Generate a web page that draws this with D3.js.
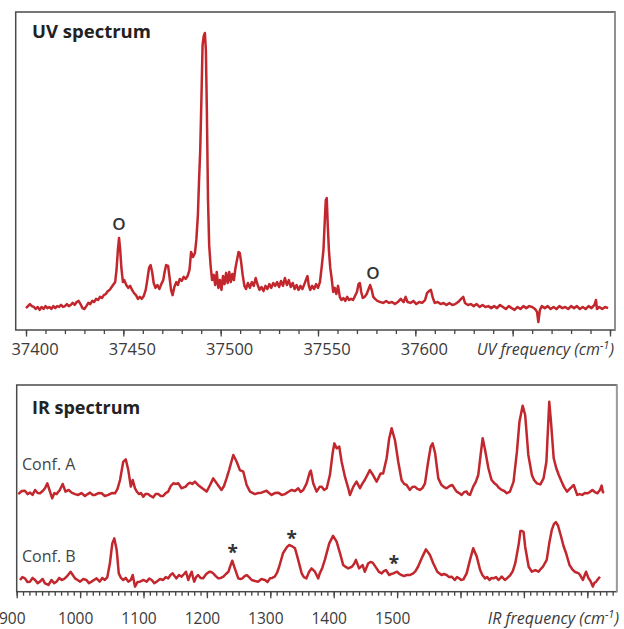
<!DOCTYPE html>
<html>
<head>
<meta charset="utf-8">
<script src="https://cdn.jsdelivr.net/npm/d3@7"></script>
<style>
  body { margin: 0; background: #fff; }
  text { font-family: "Open Sans", sans-serif; }
</style>
</head>
<body>
<svg id="chart"></svg>
<script>
// UV spectrum: [frequency (cm-1), intensity (arb. units, main peak = 100)]
const uvSpectrum = [
  [37400,4.8],[37401,5.5],[37402,6.2],[37403,5.5],[37404,5.2],[37405,4.5],[37406,5.2],[37407,4.2],[37408,5.2],[37409,4.5],
  [37410,5.5],[37411,4.8],[37412,5.2],[37413,4.5],[37414,5.5],[37415,4.8],[37416,5.5],[37417,5.2],[37418,5.9],[37419,5.2],
  [37420,5.5],[37421,6.2],[37422,5.5],[37423,5.9],[37424,6.6],[37425,5.9],[37426,6.9],[37427,7.3],[37428,6.2],[37429,4.8],
  [37430,4.5],[37431,5.5],[37432,6.6],[37433,6.2],[37434,7.3],[37435,6.9],[37436,8.0],[37437,7.6],[37438,8.7],[37439,8.3],
  [37440,9.3],[37441,9.7],[37442,10.7],[37443,11.1],[37444,12.1],[37445,13.1],[37445.8,13.8],[37446.5,18.0],[37447.2,24.9],
  [37447.8,29.1],[37448.4,24.9],[37449,18.7],[37449.8,13.8],[37450.5,14.5],[37451.5,12.8],[37452.5,11.8],[37453.5,12.5],
  [37454.5,11.1],[37455.5,10.0],[37456.5,9.3],[37457.5,8.0],[37458.5,8.7],[37459.5,8.0],[37460.5,9.0],[37461.5,11.1],
  [37462.3,14.5],[37463.2,18.7],[37464,19.7],[37464.8,17.3],[37465.6,13.5],[37466.5,11.8],[37467.5,12.8],[37468.5,11.4],
  [37469.5,13.1],[37470.5,14.5],[37471.2,17.3],[37472,19.7],[37473,19.4],[37473.8,15.2],[37474.5,11.1],[37475.3,9.3],
  [37476.2,12.1],[37477.2,13.8],[37478,12.8],[37479,14.9],[37480,14.2],[37481,15.6],[37482,14.9],[37483,15.9],[37484,18.0],
  [37484.8,24.2],[37485.8,22.5],[37486.8,23.9],[37487.5,28.4],[37488.3,37.0],[37488.9,49.1],[37489.5,59.5],[37490.1,76.8],
  [37490.7,95.8],[37491.3,99.0],[37491.9,100],[37492.4,94.1],[37492.9,73.4],[37493.5,42.2],[37494.1,26.6],[37494.8,19.7],
  [37495.6,14.5],[37496.4,16.3],[37497.2,12.8],[37498,17.3],[37498.8,11.8],[37499.6,14.5],[37500.4,11.1],[37501.2,15.9],
  [37502,13.1],[37502.8,17.0],[37503.6,13.5],[37504.4,17.3],[37505.2,13.8],[37506,16.6],[37506.8,14.5],[37507.6,18.7],
  [37508.4,21.5],[37509.2,24.2],[37509.8,23.9],[37510.5,20.8],[37511.3,16.3],[37512.2,12.5],[37513,11.4],[37514,13.5],
  [37515,11.8],[37516,13.8],[37517,12.5],[37518,15.2],[37519,12.8],[37520,11.1],[37521,12.1],[37522,10.7],[37523,12.5],
  [37524,11.4],[37525,13.1],[37526,11.8],[37527,13.5],[37528,12.5],[37529,13.8],[37530,12.1],[37531,14.2],[37532,12.5],
  [37533,15.2],[37534,12.8],[37535,14.5],[37536,12.1],[37537,13.5],[37538,11.4],[37539,12.8],[37540,11.1],[37541,12.5],
  [37542,11.4],[37543,13.1],[37544,14.9],[37544.6,15.9],[37545.3,12.5],[37546,11.1],[37547,12.5],[37548,11.4],[37549,13.1],
  [37550,11.8],[37551,13.8],[37552,19.7],[37552.8,24.9],[37553.5,35.3],[37554,42.2],[37554.5,42.9],[37555,33.6],
  [37555.6,24.9],[37556.3,18.7],[37557,15.2],[37557.8,10.4],[37558.6,11.8],[37559.4,9.7],[37560.3,12.5],[37561.2,8.7],
  [37562,7.6],[37563,8.3],[37564,7.3],[37565,8.7],[37566,7.6],[37567,8.0],[37568,7.6],[37569,9.0],[37570,10.4],
  [37570.8,13.1],[37571.5,13.5],[37572.2,10.4],[37573,8.3],[37574,8.7],[37575,9.7],[37576,11.4],[37576.8,12.8],
  [37577.6,11.1],[37578.4,8.7],[37579.3,8.0],[37580.5,7.3],[37582,6.9],[37583.5,6.6],[37585,7.3],[37586.5,6.6],[37588,6.9],
  [37589.5,6.2],[37591,6.9],[37592.5,8.0],[37594,6.9],[37595,8.7],[37596,6.9],[37597.5,6.6],[37599,7.3],[37600.5,6.2],
  [37602,6.9],[37603.5,6.6],[37605,7.6],[37606,10.0],[37607,10.7],[37608,11.1],[37609,8.3],[37610,6.6],[37611.5,6.9],
  [37613,6.2],[37614.5,6.6],[37616,5.9],[37617.5,6.6],[37619,5.9],[37620.5,6.2],[37622,6.9],[37623.5,8.0],[37624.6,8.7],
  [37625.5,6.6],[37627,5.9],[37628.5,6.2],[37630,5.5],[37631.5,6.2],[37633,5.2],[37634.5,5.9],[37636,5.2],[37637.5,5.5],
  [37639,4.8],[37640.5,5.5],[37642,4.8],[37643.5,5.9],[37645,5.2],[37646.5,4.5],[37648,5.5],[37649.5,4.8],[37651,4.2],
  [37652.5,5.2],[37654,4.5],[37655.5,5.5],[37657,4.8],[37658.5,5.5],[37660,5.2],[37661.5,4.5],[37662.5,3.5],[37663.2,0],
  [37664,4.2],[37665,5.5],[37666.5,4.8],[37668,5.5],[37669.5,4.5],[37671,5.2],[37672.5,4.5],[37674,5.5],[37675.5,4.8],
  [37677,5.2],[37678.5,4.5],[37680,5.5],[37681.5,4.8],[37683,5.5],[37684.5,4.5],[37686,5.2],[37687.5,4.5],[37689,5.5],
  [37690.5,4.8],[37692,5.9],[37692.8,7.6],[37693.3,4.5],[37694.5,5.2],[37696,4.5],[37697.5,5.2],[37699,4.8]
];

// peaks marked "O" in the UV spectrum: frequency and label height
const uvMarkFreq = [37447.8, 37578.2];
const uvMarkLevel = [33.9, 17.0];

const uvMajorTicks = [37400, 37450, 37500, 37550, 37600, 37650, 37700];
const uvTickLabels = [37400, 37450, 37500, 37550, 37600];

// IR spectra, stacked: [frequency (cm-1), intensity (arb. units, offset included)]
const irConfA = [
  [902.5,47.3],[908,48.8],[913,48.9],[917,47.3],[921,48.0],[925,46.9],[929,49.3],[933,47.8],[936.7,47.7],[941,48.8],
  [944.6,50.1],[948.3,52.5],[952.5,48.5],[956,45.3],[959.5,47.8],[963,47.3],[968,49.3],[972.5,52.2],[977,48.5],[982,49.3],
  [986.7,48.0],[992,47.3],[997,46.9],[1002,47.8],[1007.7,46.4],[1012,47.3],[1015.6,48.0],[1020,46.9],[1023.5,46.9],
  [1029,47.8],[1034,47.7],[1039,46.4],[1044.5,46.9],[1050,47.8],[1055,47.7],[1059,49.8],[1063,54.1],[1068,62.9],
  [1072,64.1],[1076,58.9],[1080,50.9],[1083,54.1],[1086.6,50.1],[1090,48.3],[1093,47.3],[1096,47.8],[1099.7,46.0],
  [1103,47.3],[1107.5,47.3],[1111,46.4],[1115.4,45.7],[1119,47.3],[1123.3,47.3],[1127,46.4],[1131,46.4],[1135,47.8],
  [1139,48.5],[1143,51.2],[1147,52.5],[1151,52.2],[1155,52.5],[1160,50.1],[1166.5,50.9],[1170,52.2],[1173,52.8],
  [1177,52.2],[1181,53.3],[1186,51.7],[1192.7,50.1],[1199.6,48.5],[1205,51.7],[1210,54.9],[1215.4,52.5],[1223,49.3],
  [1227,51.2],[1231,54.9],[1235,58.9],[1238,62.2],[1241.6,66.2],[1247,62.9],[1252,58.9],[1257.4,58.1],[1262.7,51.7],
  [1268,48.5],[1275.8,47.3],[1281,47.8],[1286,48.0],[1294,48.9],[1298,47.8],[1302,46.9],[1307,47.8],[1312.5,48.0],
  [1318,46.9],[1323,47.3],[1328,48.3],[1333.7,49.3],[1339,48.8],[1344,50.1],[1348,48.3],[1352,49.3],[1357.3,52.5],
  [1362.5,58.1],[1364,58.6],[1367.7,52.5],[1373,48.5],[1378,50.9],[1381,50.9],[1385,49.3],[1389,50.1],[1394,56.5],
  [1398.3,67.0],[1401,71.8],[1404.6,69.4],[1408.8,70.2],[1412.5,62.9],[1417.7,55.7],[1423,50.1],[1425.6,46.9],
  [1431,50.9],[1436,53.3],[1441.4,50.1],[1445,52.2],[1449,54.1],[1457,58.9],[1462,56.5],[1467.7,53.3],[1474,57.3],
  [1478,57.3],[1483.5,64.6],[1487.6,74.3],[1491.4,79.1],[1496.6,73.4],[1501.8,62.9],[1507,54.1],[1511,52.2],[1515,51.7],
  [1520,49.3],[1524,50.7],[1528,50.9],[1532,49.8],[1536,49.3],[1540,50.2],[1544,52.5],[1549,62.9],[1553,70.2],
  [1556,71.8],[1560,67.0],[1565,54.9],[1570,51.7],[1574,50.7],[1578,50.1],[1583,51.2],[1587,51.7],[1591,49.8],
  [1594,48.5],[1598,47.8],[1601.8,46.9],[1606,48.3],[1609.7,48.5],[1612,47.3],[1615,46.9],[1620,50.9],[1624,53.1],
  [1628,56.5],[1632,67.0],[1635,74.3],[1638.8,68.6],[1644,59.8],[1649,54.1],[1653,52.7],[1657,51.7],[1661,50.2],
  [1665,49.3],[1669,48.8],[1673,47.7],[1678,48.5],[1683.7,53.3],[1689,67.8],[1693,82.3],[1698,90.0],[1702,85.5],
  [1707,66.2],[1712.6,56.5],[1716,54.1],[1720.6,52.5],[1726,52.0],[1731,54.9],[1735.5,62.9],[1738,79.1],[1740,91.9],
  [1742.7,82.3],[1747,64.6],[1751,59.9],[1755,56.5],[1759,53.6],[1763,50.9],[1768,48.5],[1773,50.1],[1778.6,51.7],
  [1784,46.9],[1788,47.3],[1792,46.9],[1796,47.8],[1800,47.7],[1804,48.3],[1808,49.3],[1812,48.3],[1816,47.7],
  [1820,49.3],[1822.6,51.4],[1824.5,48.3],[1826.6,48.0]
];

const irConfB = [
  [905.2,5.8],[909,7.2],[913,6.6],[917,4.8],[921,5.0],[925,6.8],[929,5.8],[933,4.3],[936.7,5.0],[941,6.3],[944.6,4.2],
  [950,3.4],[955,5.8],[959,4.3],[963,5.0],[967,6.8],[971,5.8],[975,6.3],[978.8,7.4],[985,9.8],[988.5,8.2],[992,6.6],
  [996,5.8],[1000,5.0],[1005,6.3],[1010,5.8],[1014,4.3],[1018,5.0],[1022,5.8],[1026,6.6],[1031,5.0],[1035,6.8],[1039,5.8],
  [1043,7.2],[1047,13.9],[1050.8,23.5],[1054,25.9],[1057.7,20.3],[1061,9.0],[1064.5,6.8],[1068,5.8],[1072,6.8],[1076,5.0],
  [1080,5.8],[1083,8.2],[1086.6,2.6],[1090.5,4.8],[1094.5,5.0],[1100,5.8],[1105,5.0],[1109,6.5],[1113,5.8],[1117,4.3],
  [1121,5.0],[1126,6.3],[1131,5.8],[1135,7.2],[1139,6.6],[1142.5,8.2],[1146,9.0],[1149,7.7],[1152,6.6],[1156,8.2],
  [1160,7.4],[1164,8.7],[1167,9.8],[1170.6,5.8],[1173.5,8.2],[1176,9.8],[1178,7.2],[1180,5.0],[1183,7.2],[1186,8.2],
  [1190,6.8],[1194,6.6],[1199,8.7],[1203.7,9.8],[1207,9.7],[1210,9.0],[1214,7.7],[1218,6.6],[1222,6.8],[1226,7.4],
  [1230,8.7],[1234,9.8],[1237,12.6],[1240,15.1],[1244,11.4],[1249.5,6.6],[1253,6.3],[1256,6.6],[1259.5,7.7],[1262.7,8.2],
  [1266.5,7.2],[1270.6,5.8],[1276,5.3],[1281,5.0],[1286,6.3],[1291.6,5.8],[1295.5,4.8],[1299.5,6.6],[1303,6.8],[1307,7.4],
  [1310.5,9.2],[1314,12.2],[1320,18.7],[1326.7,21.9],[1330,22.7],[1333.7,22.2],[1339,21.1],[1344,15.5],[1349.5,9.0],
  [1353,7.2],[1357,6.6],[1361,9.7],[1365,11.4],[1370.4,9.8],[1375.6,6.6],[1378,9.0],[1382,11.6],[1386,15.5],[1393,23.5],
  [1399,27.1],[1404.6,24.3],[1410,18.7],[1415,13.0],[1419,12.1],[1423,11.4],[1428.6,12.2],[1432,13.5],[1435,15.5],
  [1440,11.4],[1445.6,13.0],[1449,9.8],[1454.5,13.9],[1458,14.5],[1461.5,14.2],[1467.7,11.4],[1471.5,9.7],[1475.6,9.0],
  [1479,10.1],[1482.4,10.6],[1487.6,8.2],[1491,8.7],[1494,9.0],[1500,9.8],[1503.5,8.7],[1507,8.2],[1511,7.7],[1515,8.2],
  [1520,8.2],[1525.4,9.0],[1529,10.1],[1533,12.2],[1540,17.1],[1545.5,20.6],[1551.8,17.9],[1557,13.9],[1563.4,9.8],
  [1570,8.2],[1574,8.7],[1578,8.2],[1582,7.2],[1586,7.4],[1591,5.8],[1594.5,7.2],[1598,6.6],[1601,5.8],[1604.6,6.1],
  [1609.7,9.0],[1615,15.5],[1620,21.1],[1625.6,17.1],[1631,10.6],[1634.5,8.2],[1638.8,6.6],[1642,7.2],[1645.7,5.8],
  [1649,6.8],[1652,6.6],[1656,7.2],[1660,5.8],[1665,7.4],[1670,5.8],[1674,6.8],[1678.6,8.2],[1682.5,10.1],[1686.4,13.9],
  [1692,23.5],[1694.5,29.5],[1697,29.5],[1699.5,29.0],[1702,21.9],[1707.5,12.2],[1712.6,9.8],[1718,10.6],[1723,9.8],
  [1726.5,11.1],[1730,12.2],[1736,15.5],[1740,23.5],[1744,30.0],[1747.5,32.9],[1750.5,33.8],[1754,31.9],[1758.7,26.7],
  [1762.5,22.2],[1766.6,18.7],[1772,13.0],[1776,11.1],[1780,9.8],[1786.6,9.0],[1789.5,7.7],[1793,5.8],[1798,9.8],
  [1802,6.6],[1805,5.3],[1808.7,2.6],[1811,4.3],[1814,5.0],[1817,6.3],[1820,7.4]
];

// bands marked "*" in Conf. B
const irStarFreq = [1240.6, 1333.7, 1495];
const irStarLevel = [20.8, 27.5, 15.5];

const irMajorTicks = [900, 1000, 1100, 1200, 1300, 1400, 1500, 1600, 1700, 1800];
const irTickLabels = [900, 1000, 1100, 1200, 1300, 1400, 1500];

const red = "#c1272d";
const ink = "#3a3a3a";

const svg = d3.select("#chart")
    .attr("width", 624)
    .attr("height", 629);

// ---------- UV panel ----------
const uvBox = { left: 15.7, right: 615, top: 12, bottom: 330 };
const uvX = d3.scaleLinear().domain([37400, 37700]).range([26, 610]);
const uvY = d3.scaleLinear().domain([0, 100]).range([322, 33]);

function drawFrame(box) {
    svg.append("rect")
        .attr("x", box.left).attr("y", box.top)
        .attr("width", box.right - box.left).attr("height", box.bottom - box.top)
        .attr("fill", "none").attr("stroke", "#4a4a4a").attr("stroke-width", 1.5);
    svg.append("line")
        .attr("x1", box.right).attr("x2", box.right)
        .attr("y1", box.top).attr("y2", box.bottom)
        .attr("stroke", "#9a9a9a").attr("stroke-width", 1.5);
}

function drawAxis(scale, y, minor, major, labels, labelY, labelDx, fontSize) {
    const gMinor = svg.append("g")
        .attr("transform", `translate(0,${y})`)
        .call(d3.axisBottom(scale).tickValues(minor).tickSize(4).tickFormat(""));
    const gMajor = svg.append("g")
        .attr("transform", `translate(0,${y})`)
        .call(d3.axisBottom(scale).tickValues(major).tickSize(6.5)
            .tickFormat(d => labels.includes(d) ? d : ""));
    [gMinor, gMajor].forEach(g => {
        g.select(".domain").remove();
        g.selectAll(".tick line").attr("stroke", "#444").attr("stroke-width", 1.3);
    });
    gMajor.selectAll(".tick text")
        .attr("y", labelY).attr("dy", 0).attr("dx", labelDx)
        .attr("fill", ink)
        .style("font-family", '"Open Sans", sans-serif')
        .style("font-size", fontSize + "px");
}

drawFrame(uvBox);
drawAxis(uvX, uvBox.bottom, d3.range(37400, 37701, 10), uvMajorTicks, uvTickLabels, 25, 8.5, 16.5);

svg.append("path")
    .datum(uvSpectrum)
    .attr("fill", "none")
    .attr("stroke", red)
    .attr("stroke-width", 2.5)
    .attr("stroke-linejoin", "round")
    .attr("d", d3.line().x(d => uvX(d[0])).y(d => uvY(d[1])));

svg.selectAll(".uv-mark")
    .data(uvMarkFreq)
    .enter().append("text")
    .attr("class", "uv-mark")
    .attr("x", d => uvX(d))
    .attr("y", (d, i) => uvY(uvMarkLevel[i]) + 6)
    .attr("text-anchor", "middle")
    .attr("fill", "#333")
    .style("font-size", "17px").style("font-weight", "600")
    .text("O");

svg.append("text")
    .attr("x", 32).attr("y", 38)
    .attr("fill", "#222")
    .style("font-size", "18.5px").style("font-weight", "bold")
    .text("UV spectrum");

function axisTitle(x, y, label) {
    const t = svg.append("text")
        .attr("x", x).attr("y", y)
        .attr("text-anchor", "end")
        .attr("fill", ink)
        .style("font-size", "16px").style("font-style", "italic");
    t.append("tspan").text(label + " (cm");
    t.append("tspan").attr("dy", -6).style("font-size", "11px").text("-1");
    t.append("tspan").attr("dy", 6).text(")");
}
axisTitle(614, 355, "UV frequency");

// ---------- IR panel ----------
const irBox = { left: 16.7, right: 616.7, top: 385, bottom: 591.7 };
const irX = d3.scaleLinear().domain([900, 1800]).range([16.7, 587.3]);
const irY = d3.scaleLinear().domain([0, 100]).range([592, 385]);

drawFrame(irBox);
drawAxis(irX, irBox.bottom, d3.range(900, 1841, 10), irMajorTicks, irTickLabels, 32, -5, 15.5);

const irLine = d3.line().x(d => irX(d[0])).y(d => irY(d[1]));
[irConfA, irConfB].forEach(series => {
    svg.append("path")
        .datum(series)
        .attr("fill", "none")
        .attr("stroke", red)
        .attr("stroke-width", 2.5)
        .attr("stroke-linejoin", "round")
        .attr("d", irLine);
});

svg.selectAll(".ir-star")
    .data(irStarFreq)
    .enter().append("text")
    .attr("class", "ir-star")
    .attr("x", d => irX(d))
    .attr("y", (d, i) => irY(irStarLevel[i]) + 10)
    .attr("text-anchor", "middle")
    .attr("fill", "#333")
    .style("font-size", "19px").style("font-weight", "bold")
    .text("*");

svg.append("text")
    .attr("x", 32).attr("y", 414)
    .attr("fill", "#222")
    .style("font-size", "18px").style("font-weight", "bold")
    .text("IR spectrum");

[["Conf. A", 470], ["Conf. B", 562]].forEach(([label, y]) => {
    svg.append("text")
        .attr("x", 22).attr("y", y)
        .attr("fill", "#444")
        .style("font-size", "16px")
        .text(label);
});

axisTitle(619, 624, "IR frequency");
</script>
</body>
</html>
